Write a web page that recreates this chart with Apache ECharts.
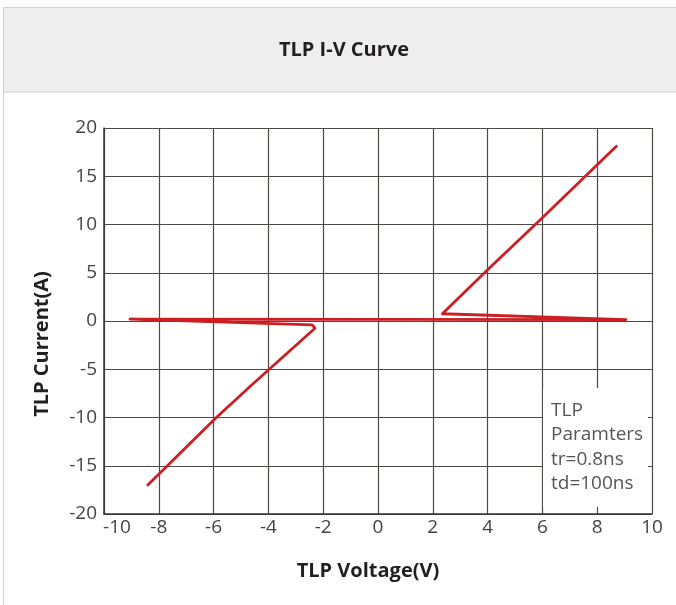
<!DOCTYPE html>
<html>
<head>
<meta charset="utf-8">
<script src="https://cdn.jsdelivr.net/npm/echarts@6/dist/echarts.min.js"></script>
<style>
  html, body { margin: 0; padding: 0; background: #fff; }
  #chart { width: 676px; height: 605px; }
</style>
</head>
<body>
<div id="chart"></div>
<script>
  // values (V, A)
  const voltage = [-8.4, -5.9, -4.6, -2.3, -2.4, -9.05, 9.05, 2.35, 2.3, 4.0, 6.0, 8.7];
  const current = [-17.0, -10.0, -6.6, -0.75, -0.4, 0.2, 0.15, 0.75, 0.95, 5.3, 10.7, 18.1];
  const paramLines = ['TLP', 'Paramters', 'tr=0.8ns', 'td=100ns'];

  const font = '"Open Sans", "Noto Sans", sans-serif';
  const gridColor = '#4e4a48';

  const myChart = echarts.init(document.getElementById('chart'));
  myChart.setOption({
    animation: false,
    backgroundColor: '#fff',
    grid: {
      left: 104,
      right: 24,
      top: 128,
      bottom: 91
    },
    xAxis: {
      type: 'value',
      min: -10,
      max: 10,
      interval: 2,
      axisLine: { onZero: false, lineStyle: { color: '#3a3433', width: 1.5 } },
      axisTick: { show: false },
      axisLabel: {
        color: '#444',
        fontSize: 19,
        fontFamily: font,
        margin: 4,
        // first label is nudged right so it clears the -20 on the y axis
        formatter: function (v) {
          return v === -10 ? '{first|' + v + '}' : String(v);
        },
        rich: {
          first: { fontSize: 19, fontFamily: font, color: '#444', padding: [0, 0, 0, 26] }
        }
      },
      splitLine: { lineStyle: { color: gridColor, width: 1.2 } }
    },
    yAxis: {
      type: 'value',
      min: -20,
      max: 20,
      interval: 5,
      axisLine: { show: true, onZero: false, lineStyle: { color: '#3a3433', width: 1.5 } },
      axisTick: { show: false },
      axisLabel: { color: '#444', fontSize: 19, fontFamily: font, margin: 7 },
      splitLine: { lineStyle: { color: gridColor, width: 1.2 } }
    },
    series: [
      {
        name: 'TLP I-V',
        type: 'line',
        showSymbol: false,
        data: voltage.map((v, i) => [v, current[i]]),
        lineStyle: { color: '#cc1f24', width: 2.8, join: 'round', cap: 'round' },
        z: 3
      }
    ],
    graphic: [
      // header band
      {
        type: 'rect',
        shape: { x: 3.5, y: 7.5, width: 680, height: 84.5 },
        style: { fill: '#eeeeee', stroke: '#cfcfcf', lineWidth: 1 },
        z: 0
      },
      {
        type: 'line',
        shape: { x1: 3.5, y1: 92, x2: 3.5, y2: 605 },
        style: { stroke: '#cfcfcf', lineWidth: 1 },
        z: 0
      },
      {
        type: 'text',
        x: 344, y: 50,
        style: {
          text: 'TLP I-V Curve',
          fill: '#231f20',
          font: 'bold 20px ' + font,
          textAlign: 'center',
          textVerticalAlign: 'middle'
        }
      },
      // axis titles
      {
        type: 'text',
        x: 42, y: 344,
        rotation: Math.PI / 2,
        style: {
          text: 'TLP Current(A)',
          fill: '#231f20',
          font: 'bold 20px ' + font,
          textAlign: 'center',
          textVerticalAlign: 'middle'
        }
      },
      {
        type: 'text',
        x: 368, y: 571,
        style: {
          text: 'TLP Voltage(V)',
          fill: '#231f20',
          font: 'bold 20px ' + font,
          textAlign: 'center',
          textVerticalAlign: 'middle'
        }
      },
      // parameter box
      {
        type: 'rect',
        shape: { x: 543, y: 388, width: 105, height: 119 },
        style: { fill: '#fff' },
        z: 10
      },
      {
        type: 'text',
        x: 551, y: 398,
        z: 11,
        style: {
          text: paramLines.join('\n'),
          fill: '#555',
          font: '19px ' + font,
          lineHeight: 24.5,
          textAlign: 'left',
          textVerticalAlign: 'top'
        }
      }
    ]
  });
</script>
</body>
</html>
